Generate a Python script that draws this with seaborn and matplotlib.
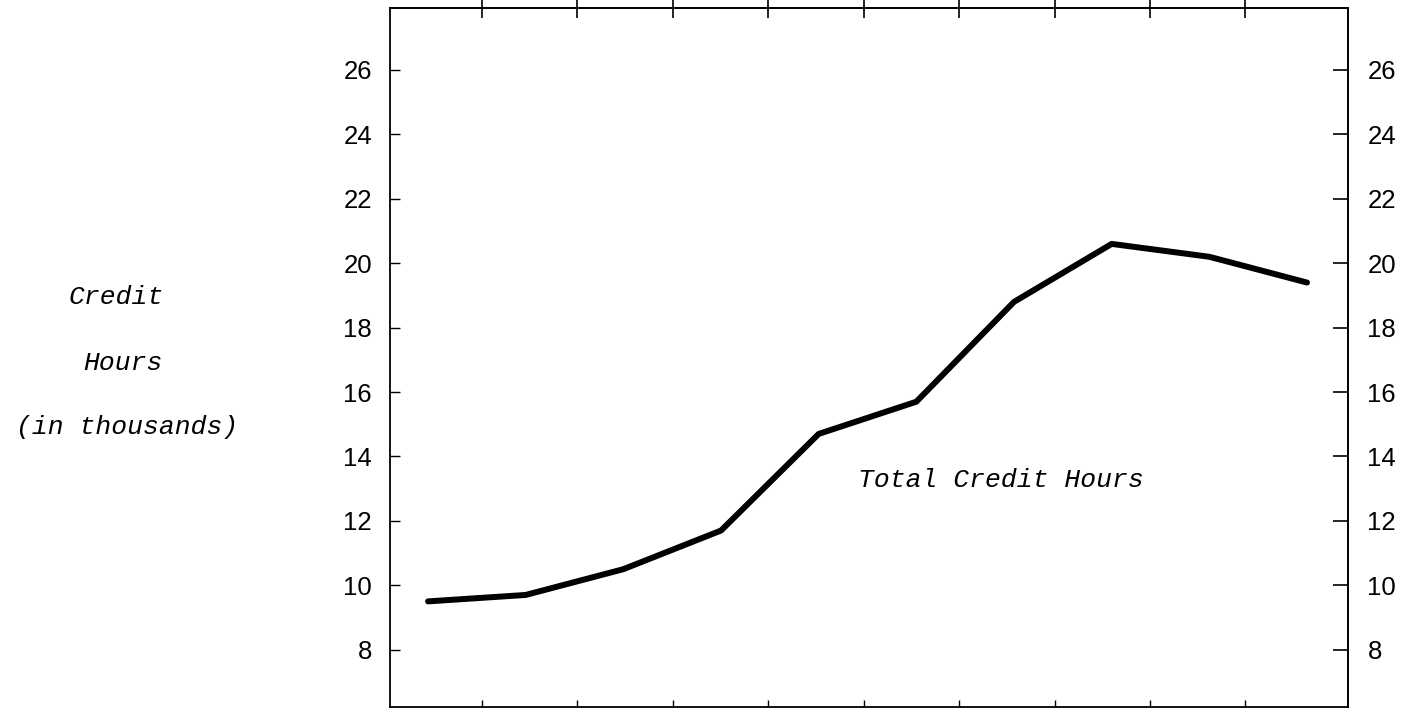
import numpy as np
import pandas as pd
import matplotlib
matplotlib.use("Agg")
import matplotlib.pyplot as plt
import seaborn as sns

# ==========================================
# DATA
# ==========================================
# ten periods, unlabeled on the original
periods = [0, 1, 2, 3, 4, 5, 6, 7, 8, 9]
# total credit hours, in thousands
credit_hours = [9.5, 9.7, 10.5, 11.7, 14.7, 15.7, 18.8, 20.6, 20.2, 19.4]

y_ticks = [8, 10, 12, 14, 16, 18, 20, 22, 24, 26]
y_label_lines = ["Credit", "Hours", "(in thousands)"]
series_label = "Total Credit Hours"

# ==========================================
# STYLE
# ==========================================
sns.set_style("white")
plt.rcParams['font.family'] = ['Liberation Sans', 'DejaVu Sans']
plt.rcParams['text.color'] = 'black'
plt.rcParams['xtick.color'] = 'black'
plt.rcParams['ytick.color'] = 'black'
plt.rcParams['axes.labelcolor'] = 'black'
TYPEWRITER = ['Liberation Mono', 'DejaVu Sans Mono']

df = pd.DataFrame({'period': periods, 'hours': credit_hours})

fig = plt.figure(figsize=(14.13, 7.12), dpi=100)
ax = fig.add_axes([0.276, 0.007, 0.678, 0.982])

sns.lineplot(data=df, x='period', y='hours', ax=ax, color='black',
             linewidth=4.3, solid_capstyle='round', solid_joinstyle='round')

ax.set_xlim(-0.39, 9.42)
ax.set_ylim(6.22, 27.93)
ax.set_xlabel('')
ax.set_ylabel('')

for s in ax.spines.values():
    s.set_visible(True)
    s.set_color('black')
    s.set_linewidth(1.3)

# bottom and left ticks
x_ticks = np.linspace(0.55, 8.37, 9)
ax.set_xticks(x_ticks)
ax.set_xticklabels([])
ax.set_yticks(y_ticks)
ax.tick_params(axis='x', direction='in', length=5, width=1, bottom=True, top=False)
ax.tick_params(axis='y', direction='in', length=7, width=1, left=True, right=False,
               labelsize=18.5, labelcolor='black', pad=13)

# top and right ticks
top = ax.secondary_xaxis('top')
top.set_xticks(x_ticks)
top.set_xticklabels([])
top.tick_params(direction='inout', length=14, width=1.2)
top.spines['top'].set_linewidth(1.3)

right = ax.secondary_yaxis('right')
right.set_yticks(y_ticks)
right.tick_params(direction='in', length=11, width=1.2, labelsize=18.5,
                  labelcolor='black', pad=14)
right.spines['right'].set_linewidth(1.3)

# series label inside the plot
ax.text(0.638, 0.325, series_label, transform=ax.transAxes, ha='center', va='center',
        fontsize=19, style='italic', family=TYPEWRITER, color='black')

# left side axis caption, typewriter style
for txt, (fx, fy) in zip(y_label_lines, [(116, 297), (123, 363), (127, 427)]):
    fig.text(fx / 1413, 1 - fy / 712, txt, ha='center', va='center',
             fontsize=19, style='italic', family=TYPEWRITER, color='black')

plt.savefig('out.png', dpi=100)
plt.close()
